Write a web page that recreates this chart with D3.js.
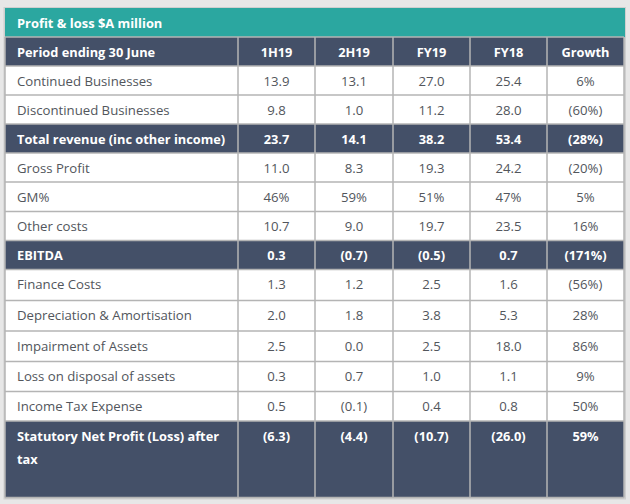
<!DOCTYPE html>
<html><head><meta charset="utf-8">
<script src="https://cdn.jsdelivr.net/npm/d3@7"></script>
<style>html,body{margin:0;padding:0;background:#e7e7e7;}svg{display:block;}</style>
</head><body>
<svg id="c" width="630" height="504"></svg>
<script>
const title = "Profit & loss $A million";
const columns = ["Period ending 30 June", "1H19", "2H19", "FY19", "FY18", "Growth"];
const rowLabels = ["Continued Businesses","Discontinued Businesses","Total revenue (inc other income)","Gross Profit","GM%","Other costs","EBITDA","Finance Costs","Depreciation & Amortisation","Impairment of Assets","Loss on disposal of assets","Income Tax Expense","Statutory Net Profit (Loss) after tax"];
const h1H19 = ["13.9","9.8","23.7","11.0","46%","10.7","0.3","1.3","2.0","2.5","0.3","0.5","(6.3)"];
const h2H19 = ["13.1","1.0","14.1","8.3","59%","9.0","(0.7)","1.2","1.8","0.0","0.7","(0.1)","(4.4)"];
const fy19 = ["27.0","11.2","38.2","19.3","51%","19.7","(0.5)","2.5","3.8","2.5","1.0","0.4","(10.7)"];
const fy18 = ["25.4","28.0","53.4","24.2","47%","23.5","0.7","1.6","5.3","18.0","1.1","0.8","(26.0)"];
const growth = ["6%","(60%)","(28%)","(20%)","5%","16%","(171%)","(56%)","28%","86%","9%","50%","59%"];
const highlighted = ["Total revenue (inc other income)","EBITDA","Statutory Net Profit (Loss) after tax"];

// layout
const colEdges = [5, 238, 315, 393, 470, 547, 624];
const rowHeights = [29,29,29,29,29,29.5,29,29,31,30.5,30.5,30,29.5,76.5];
const titleTop = 8, titleH = 29;
const teal = "#2ba7a0", navy = "#445068", grid = "#b4b4b4", txt = "#52565c";
const font = "'Open Sans', sans-serif";
const fs = 13.2, fsBold = 12.8;

const svg = d3.select("#c");
const rows = [{label: columns[0], vals: columns.slice(1), head: true}].concat(
  rowLabels.map((l,i)=>({label:l, vals:[h1H19[i],h2H19[i],fy19[i],fy18[i],growth[i]], head: highlighted.includes(l)})));

const ys = [titleTop + titleH];
rowHeights.forEach(h=>ys.push(ys[ys.length-1]+h));

svg.append("rect").attr("x",colEdges[0]-0.5).attr("y",titleTop).attr("width",colEdges[6]-colEdges[0]+1.5).attr("height",ys[ys.length-1]-titleTop+1)
  .attr("fill","none").attr("stroke","#cfcfcf").attr("stroke-width",2);
svg.append("rect").attr("x",colEdges[0]).attr("y",titleTop).attr("width",colEdges[6]-colEdges[0]+1).attr("height",titleH).attr("fill",teal);
svg.append("text").attr("x",17).attr("y",titleTop+titleH/2+5).attr("fill","#fff").attr("font-family",font)
  .attr("font-weight","bold").attr("font-size",12.9).text(title);

const g = svg.selectAll("g.row").data(rows).join("g").attr("class","row");
g.append("rect").attr("x",colEdges[0]).attr("y",(d,i)=>ys[i]).attr("width",colEdges[6]-colEdges[0])
  .attr("height",(d,i)=>rowHeights[i]).attr("fill",d=>d.head?navy:"#fff");

svg.selectAll("line.h").data(ys).join("line").attr("x1",colEdges[0]).attr("x2",colEdges[6]).attr("y1",d=>d).attr("y2",d=>d)
  .attr("stroke",grid).attr("stroke-width",1.5);
svg.selectAll("line.v").data(colEdges).join("line").attr("x1",d=>d).attr("x2",d=>d).attr("y1",ys[0]).attr("y2",ys[ys.length-1])
  .attr("stroke",grid).attr("stroke-width",1.5);

g.each(function(d,i){
  const sel = d3.select(this);
  const top = ys[i];
  const base = top + 19.5;
  const size = d.head ? fsBold : fs;
  const lab = sel.append("text").attr("x",17).attr("y",base).attr("font-family",font).attr("font-size",size)
    .attr("fill",d.head?"#fff":txt).attr("font-weight",d.head?"bold":"normal");
  if (i === rows.length-1) {
    lab.append("tspan").attr("x",17).text("Statutory Net Profit (Loss) after");
    lab.append("tspan").attr("x",17).attr("dy",23).text("tax");
  } else lab.text(d.label);
  d.vals.forEach((v,j)=>{
    sel.append("text").attr("x",(colEdges[j+1]+colEdges[j+2])/2).attr("y",base).attr("text-anchor","middle")
      .attr("font-family",font).attr("font-size",size).attr("fill",d.head?"#fff":txt).attr("font-weight",d.head?"bold":"normal").text(v);
  });
});
</script>
</body></html>
